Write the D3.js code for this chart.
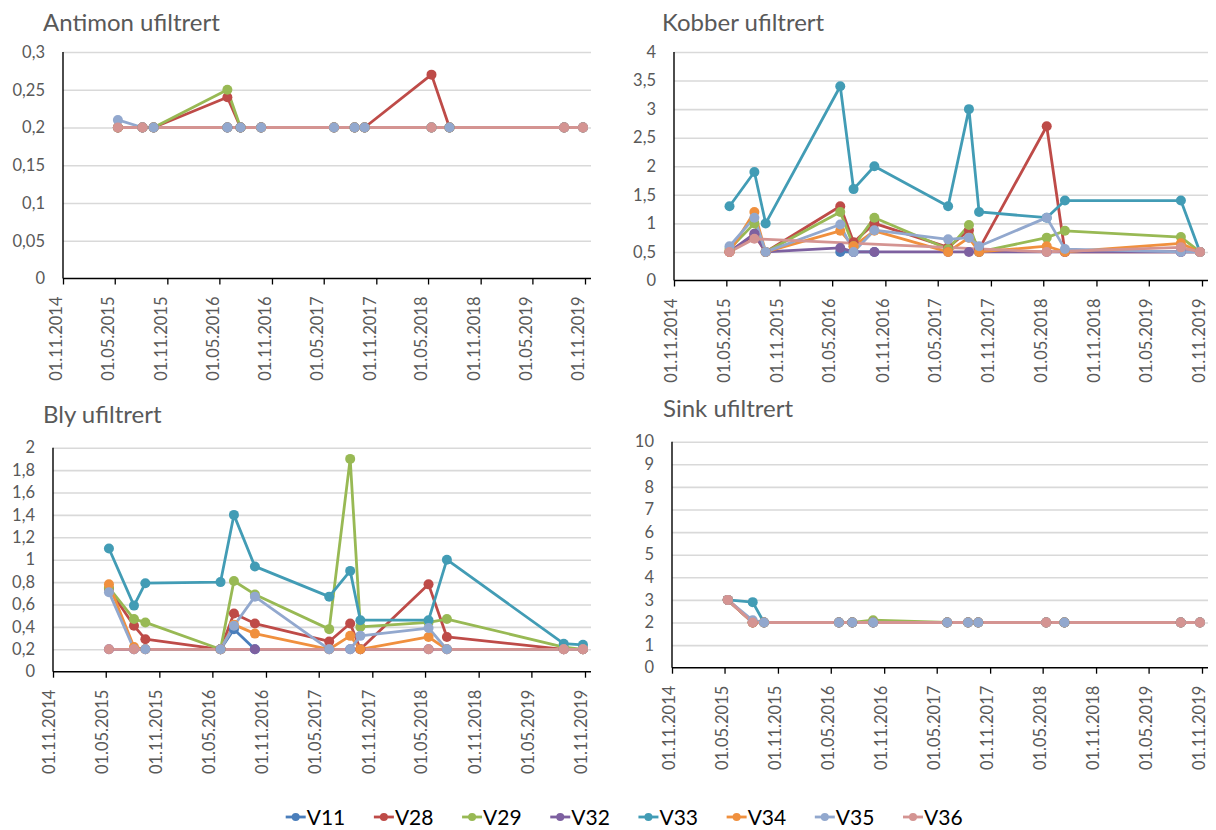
<!DOCTYPE html>
<html><head><meta charset="utf-8">
<script src="https://cdn.jsdelivr.net/npm/d3@7"></script>
<style>body{margin:0;background:#fff;} svg{display:block;background:#fff;}</style>
</head><body><svg id="c" width="1216" height="830"></svg>
<script>
// ---- data ----
const sampleDates = ["2015-05-12","2015-08-06","2015-09-14","2016-05-29","2016-07-14","2016-09-24",
  "2017-06-06","2017-08-17","2017-09-21","2018-05-13","2018-07-15","2019-08-20","2019-10-25"];
const seriesNames = ["V11","V28","V29","V32","V33","V34","V35","V36"];
const seriesColors = ["#4A7EBB","#BE4B48","#98B954","#7D60A0","#429CB5","#F0903E","#92A8CE","#D49492"];
const xTickDates = ["2014-11-01","2015-05-01","2015-11-01","2016-05-01","2016-11-01","2017-05-01",
  "2017-11-01","2018-05-01","2018-11-01","2019-05-01","2019-11-01"];
const antimonTicks = [0,0.05,0.1,0.15,0.2,0.25,0.3];
const kobberTicks = [0,0.5,1,1.5,2,2.5,3,3.5,4];
const blyTicks = [0,0.2,0.4,0.6,0.8,1,1.2,1.4,1.6,1.8,2];
const sinkTicks = [0,1,2,3,4,5,6,7,8,9,10];
const _ = null;
// values per series, in seriesNames order, one per sample date (null = no sample)
const antimonValues = [
  [_,_,_,0.2,0.2,0.2,_,_,_,_,_,_,_],
  [0.2,0.2,0.2,0.24,0.2,0.2,0.2,0.2,0.2,0.27,0.2,0.2,0.2],
  [0.2,0.2,0.2,0.25,0.2,0.2,0.2,0.2,0.2,0.2,0.2,0.2,0.2],
  [0.2,0.2,0.2,0.2,0.2,0.2,0.2,0.2,0.2,0.2,0.2,0.2,0.2],
  [0.2,0.2,0.2,0.2,0.2,0.2,0.2,0.2,0.2,0.2,0.2,0.2,0.2],
  [0.2,0.2,0.2,0.2,0.2,0.2,0.2,0.2,0.2,0.2,0.2,0.2,0.2],
  [0.21,0.2,0.2,0.2,0.2,0.2,0.2,0.2,0.2,0.2,0.2,0.2,0.2],
  [0.2,0.2,_,_,_,_,_,_,_,0.2,_,0.2,0.2]
];
const kobberValues = [
  [_,_,_,0.5,0.5,0.5,_,_,_,_,_,_,_],
  [0.5,0.8,0.5,1.3,0.67,1.0,0.58,0.88,0.55,2.7,0.5,0.5,0.5],
  [0.55,1.0,0.5,1.2,0.6,1.1,0.55,0.97,0.5,0.75,0.87,0.76,0.5],
  [0.5,0.82,0.5,0.57,0.5,0.5,0.5,0.5,0.5,0.5,0.5,0.5,0.5],
  [1.3,1.9,1.0,3.4,1.6,2.0,1.3,3.0,1.2,1.1,1.4,1.4,0.5],
  [0.5,1.2,0.5,0.87,0.6,0.87,0.5,0.75,0.5,0.6,0.5,0.65,0.5],
  [0.6,1.1,0.5,0.98,0.5,0.88,0.72,0.75,0.6,1.1,0.55,0.5,0.5],
  [0.5,0.73,_,_,_,_,_,_,_,0.5,_,0.58,0.5]
];
const blyValues = [
  [_,_,_,0.2,0.38,0.2,_,_,_,_,_,_,_],
  [0.74,0.41,0.29,0.2,0.52,0.43,0.27,0.43,0.2,0.78,0.31,0.2,0.2],
  [0.75,0.47,0.44,0.2,0.81,0.69,0.38,1.9,0.4,0.44,0.47,0.22,0.2],
  [0.2,0.2,0.2,0.2,_,0.2,0.2,0.2,0.2,0.2,0.2,0.2,0.2],
  [1.1,0.59,0.79,0.8,1.4,0.94,0.67,0.9,0.46,0.46,1.0,0.25,0.24],
  [0.78,0.22,0.2,0.2,0.42,0.34,0.2,0.32,0.2,0.31,0.2,0.2,0.2],
  [0.71,0.2,0.2,0.2,0.41,0.67,0.2,0.2,0.32,0.39,0.2,0.2,0.2],
  [0.2,0.2,_,_,_,_,_,_,_,0.2,_,0.2,0.2]
];
const sinkValues = [
  [_,_,_,2,2,2,_,_,_,_,_,_,_],
  [3,2,2,2,2,2,2,2,2,2,2,2,2],
  [3,2,2,2,2,2.1,2,2,2,2,2,2,2],
  [3,2,2,2,2,2,2,2,2,2,2,2,2],
  [3,2.9,2,2,2,2,2,2,2,2,2,2,2],
  [3,2,2,2,2,2,2,2,2,2,2,2,2],
  [3,2.1,2,2,2,2,2,2,2,2,2,2,2],
  [3,2,_,_,_,_,_,_,_,2,_,2,2]
];

// ---- layout ----
const panels = [
  {title:"Antimon ufiltrert", values:antimonValues, ticks:antimonTicks, x0:63, x1:585, yTop:52, yBot:278.5, tx:43, ty:31, labOff:-7},
  {title:"Kobber ufiltrert", values:kobberValues, ticks:kobberTicks, x0:674, x1:1202, yTop:52, yBot:280.5, tx:662, ty:31, labOff:-3},
  {title:"Bly ufiltrert", values:blyValues, ticks:blyTicks, x0:53, x1:585, yTop:447.7, yBot:671.7, tx:43, ty:423, labOff:-4},
  {title:"Sink ufiltrert", values:sinkValues, ticks:sinkTicks, x0:672, x1:1202, yTop:441.7, yBot:667.7, tx:663, ty:417, labOff:-3}
];

const svg = d3.select("#c");
const parse = d3.timeParse("%Y-%m-%d");
const fmtDate = d3.timeFormat("%d.%m.%Y");
const fmtNum = d => String(d).replace(".", ",");
const FONT = "Lato, 'Open Sans', sans-serif";
const GREY = "#595959";

function drawPanel(p) {
  const g = svg.append("g");
  const x = d3.scaleTime().domain([parse(xTickDates[0]), parse(xTickDates[xTickDates.length-1])]).range([p.x0, p.x1]);
  const y = d3.scaleLinear().domain([0, d3.max(p.ticks)]).range([p.yBot, p.yTop]);
  const right = p.x1 + 6;

  g.append("text").attr("x", p.tx).attr("y", p.ty).text(p.title)
    .style("font-family", FONT).style("font-size", "24px").style("fill", GREY);

  const grid = g.append("g").attr("transform", `translate(${p.x0},0)`)
    .call(d3.axisLeft(y).tickValues(p.ticks.filter(t => t > 0)).tickSize(-(right - p.x0)).tickFormat(""));
  grid.select(".domain").remove();
  grid.selectAll("line").attr("stroke", "#D9D9D9").attr("stroke-width", 1.6);

  const ya = g.append("g").attr("transform", `translate(${p.x0},0)`)
    .call(d3.axisLeft(y).tickValues(p.ticks).tickSize(0).tickPadding(18).tickFormat(fmtNum));
  ya.select(".domain").remove();
  ya.selectAll("text").style("font-family", FONT).style("font-size", "16.5px").style("fill", GREY);

  const xa = g.append("g").attr("transform", `translate(0,${p.yBot})`)
    .call(d3.axisBottom(x).tickValues(xTickDates.map(parse)).tickSize(6).tickFormat(fmtDate));
  xa.select(".domain").remove();
  xa.selectAll("line").attr("stroke", "#000").attr("stroke-width", 1.3);
  xa.selectAll("text")
    .attr("transform", `translate(${p.labOff},18) rotate(-90)`)
    .attr("x", 0).attr("y", 0).attr("dy", "0.35em")
    .style("text-anchor", "end")
    .style("font-family", FONT).style("font-size", "16.5px").style("fill", GREY);

  g.append("line").attr("x1", p.x0).attr("x2", right).attr("y1", p.yBot).attr("y2", p.yBot)
    .attr("stroke", "#000").attr("stroke-width", 1.4);
  g.append("line").attr("x1", p.x0).attr("x2", p.x0).attr("y1", p.yTop).attr("y2", p.yBot)
    .attr("stroke", "#000").attr("stroke-width", 1.4);

  const series = seriesNames.map((name, i) => ({
    name, color: seriesColors[i],
    pts: p.values[i].map((v, j) => ({d: parse(sampleDates[j]), v})).filter(o => o.v !== null)
  }));
  const line = d3.line().x(o => x(o.d)).y(o => y(o.v));
  series.forEach(s => {
    g.append("path").attr("d", line(s.pts)).attr("fill", "none")
      .attr("stroke", s.color).attr("stroke-width", 2.8).attr("stroke-linejoin", "round");
  });
  series.forEach(s => {
    g.selectAll(null).data(s.pts).enter().append("circle")
      .attr("cx", o => x(o.d)).attr("cy", o => y(o.v)).attr("r", 5).attr("fill", s.color);
  });
}
panels.forEach(drawPanel);

const legX = d3.scalePoint().domain(seriesNames).range([285.7, 903]);
const leg = svg.append("g");
seriesNames.forEach((n, i) => {
  const lx = legX(n), ly = 817;
  leg.append("line").attr("x1", lx).attr("x2", lx + 20).attr("y1", ly).attr("y2", ly)
    .attr("stroke", seriesColors[i]).attr("stroke-width", 2.8);
  leg.append("circle").attr("cx", lx + 10).attr("cy", ly).attr("r", 4).attr("fill", seriesColors[i]);
  leg.append("text").attr("x", lx + 21).attr("y", ly).attr("dy", "0.36em").text(n)
    .style("font-family", FONT).style("font-size", "21px").style("fill", "#000");
});
</script></body></html>
